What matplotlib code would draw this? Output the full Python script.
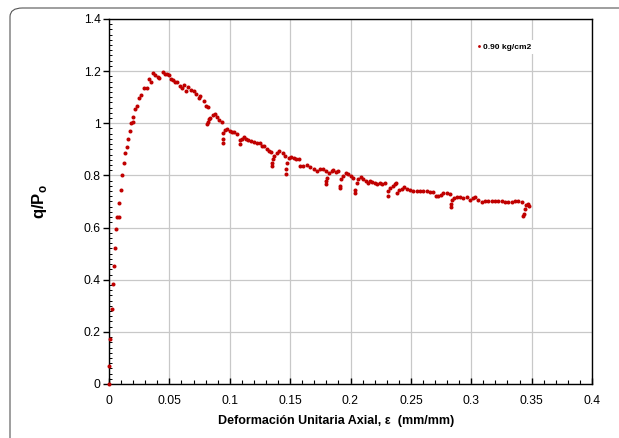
import matplotlib
matplotlib.use("Agg")
import matplotlib.pyplot as plt
from matplotlib.patches import FancyBboxPatch
from matplotlib.ticker import MultipleLocator

plt.rcParams['font.family'] = ['Liberation Sans', 'DejaVu Sans']
plt.rcParams['mathtext.fontset'] = 'custom'
plt.rcParams['mathtext.rm'] = 'Liberation Sans'
plt.rcParams['mathtext.bf'] = 'Liberation Sans:bold'

strain = [0.0, 0.0003, 0.001, 0.0023, 0.0033, 0.004, 0.005, 0.006, 0.007, 0.0079, 0.0084,
          0.0098, 0.0111, 0.0126, 0.0131, 0.0148, 0.0159, 0.017, 0.0184, 0.0195, 0.020,
          0.0214, 0.0231, 0.025, 0.0264, 0.0286, 0.0313, 0.033, 0.0347, 0.0363, 0.0383,
          0.0402, 0.0418, 0.0446, 0.0465, 0.048, 0.0493, 0.0512, 0.0528, 0.0548, 0.0567,
          0.0584, 0.0603, 0.0617, 0.0639, 0.0658, 0.0678, 0.070, 0.0722, 0.0744, 0.0755,
          0.0783, 0.0805, 0.0816, 0.081, 0.0816, 0.0827, 0.0838, 0.086, 0.0877, 0.0893,
          0.0915, 0.0937, 0.0943, 0.0943, 0.0948, 0.0962, 0.0976, 0.0998, 0.1018, 0.1037,
          0.1059, 0.1087, 0.1087, 0.1098, 0.1114, 0.1136, 0.1155, 0.1175, 0.1197, 0.1225,
          0.1247, 0.1266, 0.1286, 0.1307, 0.1324, 0.134, 0.1349, 0.1349, 0.1357, 0.1368,
          0.139, 0.1412, 0.144, 0.146, 0.1462, 0.1465, 0.1473, 0.1487, 0.1506, 0.1528,
          0.155, 0.1572, 0.1583, 0.161, 0.1638, 0.1666, 0.1694, 0.1721, 0.1749, 0.1773,
          0.1796, 0.1796, 0.1796, 0.1807, 0.1823, 0.1843, 0.1856, 0.1878, 0.1898, 0.1917,
          0.1917, 0.1925, 0.1939, 0.1961, 0.1981, 0.2, 0.2022, 0.2036, 0.2036, 0.205,
          0.2064, 0.2083, 0.2105, 0.2127, 0.2146, 0.216, 0.2182, 0.2202, 0.2221, 0.2243,
          0.2265, 0.2285, 0.2312, 0.2312, 0.2326, 0.2348, 0.2367, 0.2376, 0.2387, 0.2403,
          0.2423, 0.2442, 0.2464, 0.2492, 0.2519, 0.2547, 0.2575, 0.2602, 0.263, 0.2658,
          0.2685, 0.2707, 0.2727, 0.2746, 0.2768, 0.2796, 0.2823, 0.2832, 0.2832, 0.284,
          0.2856, 0.2878, 0.2906, 0.2934, 0.2961, 0.2989, 0.3011, 0.303, 0.3058, 0.3086,
          0.3113, 0.3141, 0.3169, 0.3196, 0.3224, 0.3251, 0.3279, 0.3307, 0.3334, 0.3362,
          0.339, 0.3417, 0.3431, 0.3436, 0.3445, 0.3453, 0.3467, 0.348]

q_po = [0.0, 0.068, 0.174, 0.286, 0.384, 0.451, 0.52, 0.596, 0.64, 0.639, 0.693,
        0.743, 0.80, 0.848, 0.886, 0.908, 0.939, 0.969, 1.0, 1.004, 1.023,
        1.053, 1.065, 1.097, 1.11, 1.135, 1.135, 1.17, 1.158, 1.192, 1.187,
        1.178, 1.174, 1.195, 1.19, 1.19, 1.186, 1.17, 1.165, 1.159, 1.159,
        1.143, 1.135, 1.145, 1.125, 1.14, 1.126, 1.122, 1.111, 1.098, 1.104,
        1.086, 1.068, 1.062, 0.998, 1.004, 1.017, 1.022, 1.032, 1.036, 1.023,
        1.014, 1.006, 0.923, 0.94, 0.963, 0.974, 0.978, 0.972, 0.968, 0.966,
        0.959, 0.921, 0.934, 0.939, 0.946, 0.939, 0.937, 0.933, 0.929, 0.926,
        0.924, 0.913, 0.911, 0.90, 0.894, 0.89, 0.836, 0.849, 0.862, 0.875,
        0.885, 0.894, 0.885, 0.875, 0.806, 0.823, 0.849, 0.868, 0.872, 0.868,
        0.862, 0.862, 0.836, 0.836, 0.839, 0.834, 0.823, 0.817, 0.823, 0.826,
        0.817, 0.768, 0.778, 0.791, 0.81, 0.817, 0.821, 0.813, 0.817, 0.752,
        0.761, 0.785, 0.797, 0.808, 0.804, 0.797, 0.791, 0.733, 0.743, 0.772,
        0.785, 0.795, 0.785, 0.778, 0.772, 0.778, 0.774, 0.772, 0.769, 0.772,
        0.768, 0.772, 0.723, 0.739, 0.752, 0.761, 0.769, 0.772, 0.733, 0.743,
        0.748, 0.756, 0.748, 0.743, 0.742, 0.741, 0.742, 0.741, 0.742, 0.738,
        0.735, 0.72, 0.72, 0.726, 0.733, 0.733, 0.73, 0.679, 0.692, 0.707,
        0.714, 0.717, 0.717, 0.714, 0.717, 0.707, 0.714, 0.717, 0.705, 0.698,
        0.701, 0.701, 0.701, 0.702, 0.701, 0.701, 0.699, 0.697, 0.699, 0.701,
        0.701, 0.697, 0.643, 0.653, 0.671, 0.688, 0.692, 0.684]

series_label = "0.90 kg/cm2"
x_label = "Deformación Unitaria Axial, ε  (mm/mm)"
y_label = r"q/P$_{\mathbf{o}}$"

fig = plt.figure(figsize=(6.19, 4.38), dpi=100)
border = FancyBboxPatch((10 / 619, -0.05), 1.05, 1 - 8 / 438 + 0.05,
                        boxstyle="round,pad=0,rounding_size=0.02",
                        transform=fig.transFigure, facecolor='none',
                        edgecolor='#555555', linewidth=0.8, zorder=0)
fig.patches.append(border)

ax = fig.add_axes([109 / 619, 1 - 384 / 438, (592 - 109) / 619, (384 - 19) / 438])
ax.plot(strain, q_po, linestyle='none', marker='o', markersize=2.9,
        color='#C00000', markeredgewidth=0, label=series_label, zorder=3, clip_on=False)

ax.set_xlim(0, 0.4)
ax.set_ylim(0, 1.4)
ax.xaxis.set_minor_locator(MultipleLocator(0.01))
ax.yaxis.set_minor_locator(MultipleLocator(0.02))
ax.set_xticks([0, 0.05, 0.1, 0.15, 0.2, 0.25, 0.3, 0.35, 0.4])
ax.set_xticklabels(['0', '0.05', '0.1', '0.15', '0.2', '0.25', '0.3', '0.35', '0.4'])
ax.set_yticks([0, 0.2, 0.4, 0.6, 0.8, 1.0, 1.2, 1.4])
ax.set_yticklabels(['0', '0.2', '0.4', '0.6', '0.8', '1', '1.2', '1.4'])

ax.grid(True, which='major', color='#C8C8C8', linewidth=0.9)
ax.set_axisbelow(True)
for s in ax.spines.values():
    s.set_linewidth(1.0)
    s.set_color('black')

ax.tick_params(axis='x', which='major', direction='in', length=4, width=1,
               labelsize=8.7, pad=8)
ax.tick_params(axis='x', which='minor', direction='in', length=3, width=0.8)
ax.tick_params(axis='y', which='major', direction='out', length=4, width=1,
               labelsize=8.7, pad=2)
ax.tick_params(axis='y', which='minor', direction='in', length=2.5, width=0.7)

ax.set_xlabel(x_label, fontsize=9, fontweight='bold', labelpad=5)
ax.xaxis.set_label_coords(0.47, -0.085)
ax.set_ylabel(y_label, fontsize=12, fontweight='bold')
ax.yaxis.set_label_coords(-0.124, 0.5)

leg = ax.legend(loc='upper right', bbox_to_anchor=(0.89, 0.955), frameon=True,
                fontsize=6, handlelength=0.5, handletextpad=0.3, borderpad=0.4,
                markerscale=0.7)
leg.get_frame().set_edgecolor('none')
leg.get_frame().set_facecolor('white')
leg.get_frame().set_alpha(1)
for t in leg.get_texts():
    t.set_fontweight('bold')

fig.savefig('out.png', dpi=100)
